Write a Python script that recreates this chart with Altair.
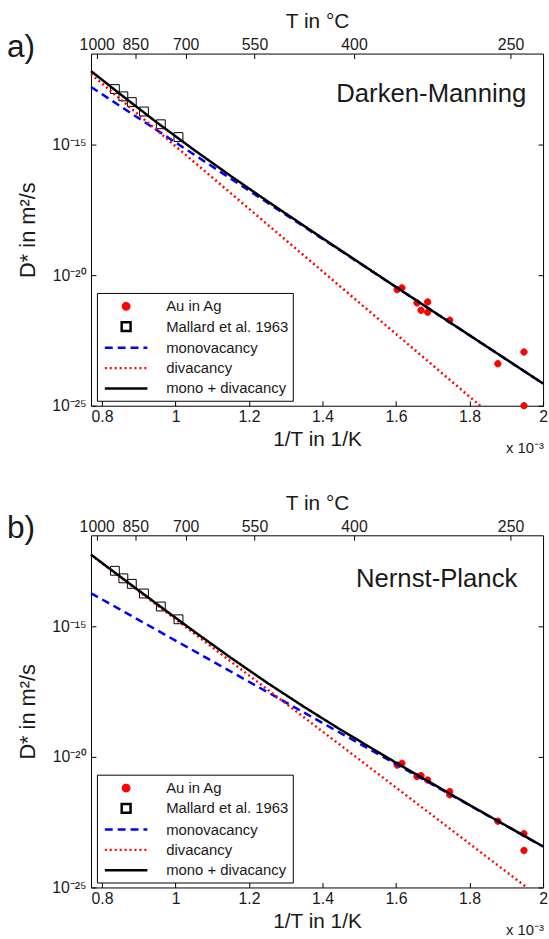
import altair as alt
import pandas as pd

FONT = "Liberation Sans"
TXT = "#1a1a1a"

SERIES = ["Au in Ag", "Mallard et al. 1963", "monovacancy", "divacancy", "mono + divacancy"]
X_DOMAIN = [0.77, 2.0]            # 1/T in 10^-3 1/K
Y_DOMAIN_EXP = [-25, -11.5]       # log10 of D* in m^2/s
X_TICKS = [0.8, 1.0, 1.2, 1.4, 1.6, 1.8, 2.0]
T_TICKS_C = [1000, 850, 700, 550, 400, 250]
Y_TICK_EXP = [-25, -20, -15]

# Mallard et al. 1963 (squares)
mallard_x = [0.835, 0.858, 0.881, 0.914, 0.960, 1.008]
mallard_a = [-12.86, -13.14, -13.36, -13.72, -14.21, -14.70]
mallard_b = [-12.86, -13.15, -13.36, -13.73, -14.23, -14.72]

# Au in Ag (red dots)
au_x_a = [1.603, 1.616, 1.657, 1.668, 1.686, 1.686, 1.746, 1.877, 1.948, 1.948]
au_a = [-20.55, -20.48, -21.06, -21.34, -21.02, -21.42, -21.72, -23.39, -22.94, -25.0]
au_x_b = [1.603, 1.616, 1.657, 1.668, 1.686, 1.746, 1.746, 1.877, 1.948, 1.948]
au_b = [-20.31, -20.24, -20.75, -20.71, -20.88, -21.32, -21.45, -22.46, -22.94, -23.58]

# model curves, panel a (Darken-Manning)
mono_x_a = [0.77, 2.0]
mono_a = [-12.78, -24.15]
di_x_a = [0.77, 1.829]
di_a = [-12.29, -25.0]
sum_x_a = [0.77, 0.85, 0.95, 1.05, 1.15, 1.25, 1.4, 1.6, 1.8, 2.0]
sum_a = [-12.17, -13.06, -14.15, -15.19, -16.19, -17.16, -18.58, -20.45, -22.30, -24.15]

# model curves, panel b (Nernst-Planck)
mono_x_b = [0.77, 2.0]
mono_b = [-13.72, -23.43]
di_x_b = [0.77, 1.956]
di_b = [-12.25, -25.0]
sum_x_b = [0.77, 0.85, 0.95, 1.05, 1.15, 1.25, 1.35, 1.45, 1.6, 1.8, 2.0]
sum_b = [-12.24, -13.09, -14.14, -15.18, -16.19, -17.16, -18.08, -18.96, -20.22, -21.84, -23.43]

W, H = 457, 356
SYM = 256  # symbol area: unit box of 16 px

SUP = {"-": "\u207b", "0": "\u2070", "1": "\u00b9", "2": "\u00b2", "3": "\u00b3",
       "4": "\u2074", "5": "\u2075", "6": "\u2076", "7": "\u2077", "8": "\u2078", "9": "\u2079"}


def sup(e):
    return "".join(SUP[c] for c in str(e))


y_label_expr = " : ".join(
    f"abs(log(datum.value)/LN10 - ({e})) < 0.01 ? '10{sup(e)}'" for e in Y_TICK_EXP
) + " : ''"

circle_path = "M-0.4,0A0.4,0.4,0,1,1,0.4,0A0.4,0.4,0,1,1,-0.4,0Z"
square_path = "M-0.56,-0.56H0.56V0.56H-0.56Z"
line_path = "M-2.69,0H2.69"


def df(xs, es, name):
    return pd.DataFrame({"x": xs, "D": [10.0 ** e for e in es], "series": name})


def panel(letter, name, name_x, name_y, au_x, au_e, sq_e, mono_x, mono_e, di_x, di_e, sum_x, sum_e):
    pts = df(au_x, au_e, SERIES[0])
    sq = df(mallard_x, sq_e, SERIES[1])
    lines = pd.concat([df(mono_x, mono_e, SERIES[2]), df(di_x, di_e, SERIES[3]),
                       df(sum_x, sum_e, SERIES[4])], ignore_index=True)

    xs = alt.Scale(domain=X_DOMAIN, nice=False, zero=False)
    ys = alt.Scale(type="log", domain=[10.0 ** Y_DOMAIN_EXP[0], 10.0 ** Y_DOMAIN_EXP[1]], nice=False)
    y_vals = [10.0 ** e for e in Y_TICK_EXP]

    legend = alt.Legend(title=None, orient="none", legendX=6, legendY=242,
                        strokeColor="black", fillColor="white", padding=4,
                        labelFont=FONT, labelFontSize=15, labelColor=TXT,
                        symbolSize=SYM, symbolStrokeWidth=2.5, symbolOffset=16,
                        labelOffset=31, rowPadding=2.5,
                        labelLimit=400, symbolOpacity=1)

    fill = alt.Fill("series:N", scale=alt.Scale(domain=SERIES, range=["#ff0000", "transparent", "transparent", "transparent", "transparent"]), legend=legend)
    stroke = alt.Stroke("series:N", scale=alt.Scale(domain=SERIES, range=["#ff0000", "#000000", "#0000ff", "#ff0000", "#000000"]), legend=legend)
    shape = alt.Shape("series:N", scale=alt.Scale(domain=SERIES, range=[circle_path, square_path, line_path, line_path, line_path]), legend=legend)
    dash = alt.StrokeDash("series:N", scale=alt.Scale(domain=SERIES, range=[[1, 0], [1, 0], [8, 5], [2, 3], [1, 0]]), legend=legend)

    x_enc = alt.X("x:Q", scale=xs, axis=alt.Axis(
        orient="bottom", values=X_TICKS, labelExpr="format(datum.value, '~g')",
        title="1/T  in 1/K", labelFlush=False, labelOverlap=False,
        tickSize=5, offset=-5, domain=False, labelPadding=3, titlePadding=4))
    y_enc = alt.Y("D:Q", scale=ys, axis=alt.Axis(
        orient="left", values=y_vals, labelExpr=y_label_expr, title="D*  in m\u00b2/s",
        labelFlush=False, labelOverlap=False, tickSize=5, offset=-5, domain=False,
        labelPadding=5, titlePadding=12, titleFontSize=22))

    p_layer = alt.Chart(pts).mark_point(size=SYM, opacity=1, strokeWidth=1).encode(
        x=x_enc, y=y_enc, fill=fill, stroke=stroke, shape=shape)
    s_layer = alt.Chart(sq).mark_point(size=SYM, opacity=1, strokeWidth=1).encode(
        x=x_enc, y=y_enc, fill=fill, stroke=stroke, shape=shape)
    l_layer = alt.Chart(lines).mark_line(strokeWidth=2.5, strokeCap="butt").encode(
        x=x_enc, y=y_enc, stroke=stroke, strokeDash=dash)

    name_layer = alt.Chart(pd.DataFrame({"t": [name]})).mark_text(
        align="right", baseline="alphabetic", font=FONT, fontSize=26, color=TXT
    ).encode(x=alt.value(name_x), y=alt.value(name_y), text="t:N")
    letter_layer = alt.Chart(pd.DataFrame({"t": [letter]})).mark_text(
        align="left", baseline="alphabetic", font=FONT, fontSize=32, color=TXT
    ).encode(x=alt.value(-85), y=alt.value(3), text="t:N")
    exp_layer = alt.Chart(pd.DataFrame({"t": ["x 10\u207b\u00b3"]})).mark_text(
        align="right", baseline="alphabetic", font=FONT, fontSize=15, color=TXT
    ).encode(x=alt.value(W + 1), y=alt.value(H + 48), text="t:N")

    main = alt.layer(p_layer, s_layer, l_layer, name_layer, letter_layer, exp_layer)

    top_pos = [1000.0 / (t + 273.15) for t in T_TICKS_C]
    axes_layer = alt.Chart(sq).mark_point(opacity=0).encode(
        x=alt.X("x:Q", scale=xs, axis=alt.Axis(
            orient="top", values=top_pos, labelExpr="format(1000 / datum.value - 273.15, '.0f')",
            title="T  in \u00b0C", labelFlush=False, labelOverlap=False, tickSize=5, offset=-5,
            domain=False, labelPadding=1, titlePadding=5)),
        y=alt.Y("D:Q", scale=ys, axis=alt.Axis(
            orient="right", values=y_vals, labels=False, title=None, tickSize=5, offset=-5,
            domain=False)),
    )
    return alt.layer(main, axes_layer).resolve_scale(x="independent", y="independent").properties(
        width=W, height=H)


pa = panel("a)", "Darken-Manning", W - 17, 49, au_x_a, au_a, mallard_a,
           mono_x_a, mono_a, di_x_a, di_a, sum_x_a, sum_a)
pb = panel("b)", "Nernst-Planck", W - 26, 52, au_x_b, au_b, mallard_b,
           mono_x_b, mono_b, di_x_b, di_b, sum_x_b, sum_b)

chart = alt.vconcat(pa, pb, spacing=35).resolve_scale(
    fill="independent", stroke="independent", shape="independent", strokeDash="independent"
).resolve_legend(
    fill="independent", stroke="independent", shape="independent", strokeDash="independent"
).properties(
    padding={"left": 6, "top": 5, "right": 0, "bottom": 0}
).configure_view(stroke="black", strokeWidth=1).configure_axis(
    labelFont=FONT, labelFontSize=16, labelColor=TXT, titleFont=FONT, titleFontSize=21,
    titleFontWeight="normal", titleColor=TXT, tickColor="black", tickWidth=1, grid=False
)

chart.save("out.html", embed_options={"renderer": "svg", "actions": False})
